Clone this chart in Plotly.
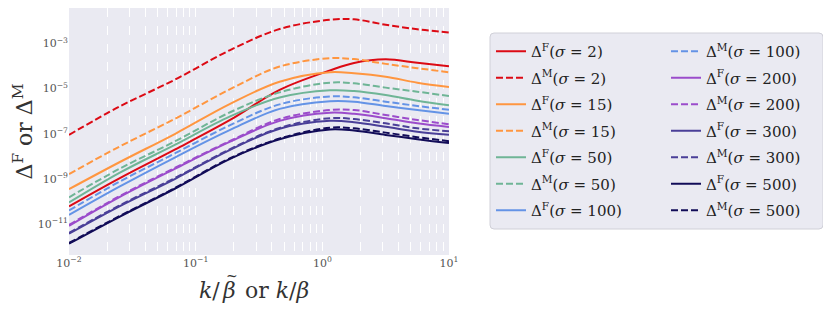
import plotly.graph_objects as go

# k / beta values (x) at which curves were read
k_vals = [0.01, 0.025, 0.069, 0.187, 0.46, 1.15, 1.78, 3.16, 5.62, 10.0]

# log10 of Delta values
F2   = [-10.21, -8.97, -7.69, -6.39, -5.06, -4.20, -3.87, -3.71, -3.86, -4.02]
M2   = [-7.05, -5.80, -4.60, -3.30, -2.37, -1.96, -1.94, -2.18, -2.38, -2.52]
F15  = [-9.45, -8.26, -7.00, -5.68, -4.70, -4.28, -4.33, -4.48, -4.74, -4.93]
M15  = [-8.78, -7.57, -6.33, -5.03, -4.03, -3.66, -3.70, -3.91, -4.10, -4.28]
F50  = [-10.04, -8.73, -7.48, -6.23, -5.40, -5.08, -5.11, -5.29, -5.54, -5.74]
M50  = [-9.81, -8.55, -7.33, -6.05, -5.17, -4.74, -4.77, -4.96, -5.14, -5.33]
F100 = [-10.59, -9.34, -8.04, -6.83, -5.90, -5.56, -5.58, -5.77, -5.95, -6.12]
M100 = [-10.39, -9.12, -7.86, -6.62, -5.70, -5.35, -5.39, -5.58, -5.77, -5.94]
F200 = [-11.07, -9.80, -8.54, -7.35, -6.43, -6.07, -6.12, -6.31, -6.54, -6.70]
M200 = [-11.03, -9.76, -8.50, -7.32, -6.35, -5.95, -5.95, -6.17, -6.39, -6.58]
F300 = [-11.42, -10.21, -8.99, -7.71, -6.78, -6.43, -6.49, -6.69, -6.91, -7.04]
M300 = [-11.38, -10.17, -8.95, -7.68, -6.74, -6.31, -6.35, -6.54, -6.76, -6.89]
F500 = [-11.86, -10.67, -9.42, -8.11, -7.24, -6.81, -6.86, -7.05, -7.24, -7.41]
M500 = [-11.83, -10.64, -9.39, -8.08, -7.21, -6.73, -6.76, -6.95, -7.15, -7.33]

sigmas = [2, 15, 50, 100, 200, 300, 500]
F_series = [F2, F15, F50, F100, F200, F300, F500]
M_series = [M2, M15, M50, M100, M200, M300, M500]
colors = ["#dc0a14", "#ff9640", "#6fb596", "#6493e6", "#9b4ccb", "#4a3f98", "#120c58"]

x_tickvals = [0.01, 0.1, 1, 10]
x_ticktext = ["10<sup>−2</sup>", "10<sup>−1</sup>", "10<sup>0</sup>", "10<sup>1</sup>"]
y_tickvals = [1e-3, 1e-5, 1e-7, 1e-9, 1e-11]
y_ticktext = ["10<sup>−3</sup>", "10<sup>−5</sup>", "10<sup>−7</sup>", "10<sup>−9</sup>", "10<sup>−11</sup>"]

SERIF = "DejaVu Serif"
PAGE_OFF = 8            # default body margin of the html page
W, H = 831 - PAGE_OFF, 313 - PAGE_OFF
L, R, T, B = 69, 449, 8, 255   # plot area in page pixels


def fx(xp):
    return (xp - PAGE_OFF) / W


def fy(yp):
    return 1 - (yp - PAGE_OFF) / H


fig = go.Figure()

entries = []
for s, f, m, c in zip(sigmas, F_series, M_series, colors):
    entries.append(("F", s, f, c, "solid"))
    entries.append(("M", s, m, c, "7px,3px"))

for i, (kind, s, vals, c, dash) in enumerate(entries):
    fig.add_trace(go.Scatter(
        x=k_vals, y=[10 ** v for v in vals], mode="lines",
        line=dict(color=c, width=2, dash=dash, shape="spline", smoothing=1.0),
        name=f"Δ<sup>{kind}</sup>(<i>σ</i> = {s})",
        legend="legend" if i < 7 else "legend2",
        legendgroup=str(i),
    ))

legend_common = dict(
    bgcolor="rgba(0,0,0,0)", borderwidth=0,
    font=dict(family=SERIF, size=15, color="#222"),
    xanchor="left", yanchor="top", tracegroupgap=4, traceorder="grouped",
    itemwidth=30,
)

# rounded legend frame (page-pixel coordinates converted to paper)
bx0, bx1, by0, by1, rr = 490, 823, 33, 229, 4
frame_path = (
    f"M {fx(bx0 + rr)} {fy(by0)} L {fx(bx1 - rr)} {fy(by0)} "
    f"Q {fx(bx1)} {fy(by0)} {fx(bx1)} {fy(by0 + rr)} "
    f"L {fx(bx1)} {fy(by1 - rr)} Q {fx(bx1)} {fy(by1)} {fx(bx1 - rr)} {fy(by1)} "
    f"L {fx(bx0 + rr)} {fy(by1)} Q {fx(bx0)} {fy(by1)} {fx(bx0)} {fy(by1 - rr)} "
    f"L {fx(bx0)} {fy(by0 + rr)} Q {fx(bx0)} {fy(by0)} {fx(bx0 + rr)} {fy(by0)} Z"
)

title_font = dict(family=SERIF, size=22, color="#333")

fig.update_layout(
    width=W, height=H,
    margin=dict(l=0, r=0, t=0, b=0, autoexpand=False),
    paper_bgcolor="white", plot_bgcolor="#EAEAF2",
    showlegend=True,
    legend=dict(x=fx(491), y=fy(35), **legend_common),
    legend2=dict(x=fx(666), y=fy(35), **legend_common),
    xaxis=dict(
        type="log", range=[-2, 1], domain=[fx(L), fx(R)], showgrid=False, zeroline=False,
        tickvals=x_tickvals, ticktext=x_ticktext, ticks="", automargin=False,
        tickfont=dict(family=SERIF, size=11, color="#555"),
        showline=False,
        minor=dict(showgrid=True, gridcolor="white", griddash="dash", gridwidth=1, dtick="D1"),
    ),
    yaxis=dict(
        type="log", range=[-12.36, -1.44], domain=[fy(B), fy(T)], showgrid=False, zeroline=False,
        tickvals=y_tickvals, ticktext=y_ticktext, ticks="", automargin=False,
        tickfont=dict(family=SERIF, size=11, color="#555"),
        showline=False,
    ),
    shapes=[dict(
        type="path", xref="paper", yref="paper", path=frame_path,
        fillcolor="#EAEAF2", line=dict(color="#d0d0d8", width=1), layer="below",
    )],
    annotations=[
        dict(text="<i>k</i>/", xref="paper", yref="paper",
             x=fx(222), y=fy(290), xanchor="right", yanchor="middle", showarrow=False,
             font=title_font),
        dict(text="<i>β</i>", xref="paper", yref="paper",
             x=fx(229), y=fy(290), xanchor="center", yanchor="middle", showarrow=False,
             font=title_font),
        dict(text="~", xref="paper", yref="paper",
             x=fx(232), y=fy(276), xanchor="center", yanchor="middle", showarrow=False,
             font=dict(family=SERIF, size=14, color="#333")),
        dict(text=" or <i>k</i>/<i>β</i>", xref="paper", yref="paper",
             x=fx(236), y=fy(290), xanchor="left", yanchor="middle", showarrow=False,
             font=title_font),
        dict(text="Δ<sup>F</sup> or Δ<sup>M</sup>", xref="paper", yref="paper",
             x=fx(22), y=fy((T + B) / 2), xanchor="center", yanchor="middle", showarrow=False,
             textangle=-90, font=title_font),
    ],
)

fig.write_html("out.html")
